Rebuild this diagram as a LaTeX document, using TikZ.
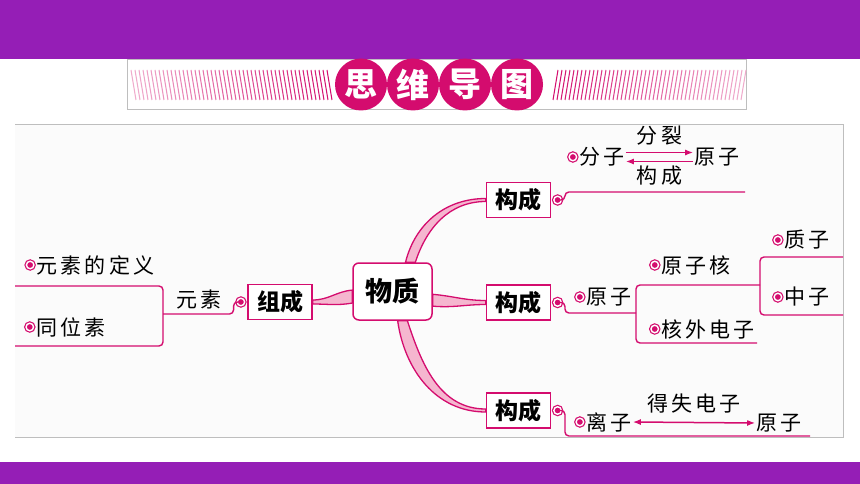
\documentclass[tikz,border=0pt]{standalone}
\usepackage{fontspec}
\setmainfont{Noto Sans CJK SC}
\newfontfamily\lbl[LetterSpace=15]{Noto Sans CJK SC}
\usepackage{tikz}
\usetikzlibrary{positioning}
\usetikzlibrary{arrows.meta}
\definecolor{barpurple}{RGB}{149,30,182}
\definecolor{mag}{RGB}{212,12,110}
\definecolor{bandpink}{RGB}{245,182,207}
\definecolor{framegray}{RGB}{190,190,190}
\definecolor{paper}{RGB}{251,251,251}

\begin{document}
\begin{tikzpicture}[
x=1pt, y=-1pt,
every node/.style={inner sep=1pt},
txt/.style={font=\lbl\fontsize{21}{24}\selectfont, text=black},
box/.style={rectangle, draw=mag, fill=white, line width=1.5pt, inner sep=0,
  minimum width=64pt, minimum height=35pt, font=\bfseries\fontsize{23}{26}\selectfont},
ring/.style={circle, draw=mag, fill=mag, line width=1.2pt, double=white,
  double distance=1.4pt, minimum size=7.5pt, inner sep=0},
wire/.style={draw=mag, line width=1.4pt, rounded corners=4pt},
band/.style={draw=mag, fill=bandpink, line width=1.3pt},
arr/.style={draw=mag, line width=1.5pt, -{Latex[length=8pt,width=6pt]}},
disc/.style={circle, fill=mag, minimum size=52pt, inner sep=0, text=white,
  font=\bfseries\fontsize{33}{33}\selectfont}
]
\useasboundingbox (0,0) rectangle (860,484);
\fill[white] (0,0) rectangle (860,484);
\fill[barpurple] (0,0) rectangle (860,59);
\fill[barpurple] (0,462) rectangle (860,484);

% title strip
\draw[framegray, fill=white] (127,59) rectangle (746,109);
\foreach \x in {131,135,...,327} {
  \pgfmathtruncatemacro\s{35+65*(\x-131)/196}
  \draw[mag!\s!white, line width=1pt] (\x,70) -- (\x+5,100);
}
\foreach \x in {553,557,...,741} {
  \pgfmathtruncatemacro\s{100-65*(\x-553)/188}
  \draw[mag!\s!white, line width=1pt] (\x+5,70) -- (\x,100);
}
\foreach \c/\x in {思/361, 维/413, 导/465, 图/517}
  \node[disc] (t-\x) at (\x,84.5) {\c};

% frame
\fill[paper] (15,125) rectangle (843,437);
\draw[framegray, line width=1pt] (15,125) -- (843,125) -- (843,437) -- (15,437);

% boxes
\node[box, rounded corners=6pt, minimum width=79pt, minimum height=57pt,
  font=\bfseries\fontsize{27}{30}\selectfont] (wz) at (392.5,291.5) {物质};
\node[box] (zc) at (280,302) {组成};
\node[box] (gc1) at (518.5,200) {构成};
\node[box] (gc2) at (518.5,302.5) {构成};
\node[box] (gc3) at (518.5,410.5) {构成};
\node[ring, left=2pt of zc] (r0) {};
\node[ring, right=2pt of gc1] (r1) {};
\node[ring, right=2pt of gc2] (r2) {};
\node[ring, right=2pt of gc3] (r3) {};

% thick branches
\draw[band] (wz.52) to[out=72,in=180] ([yshift=-1.5pt]gc1.west)
  -- ([yshift=1.5pt]gc1.west) to[out=180,in=76] (wz.66) -- cycle;
\draw[band] (wz.-4) to[out=-5,in=180] ([yshift=2pt]gc2.west)
  -- ([yshift=-2pt]gc2.west) to[out=180,in=-5] (wz.-20) -- cycle;
\draw[band] (wz.-80) to[out=-82,in=180] ([yshift=-1.5pt]gc3.west)
  -- ([yshift=1.5pt]gc3.west) to[out=180,in=-72] (wz.-63) -- cycle;
\draw[band] (wz.178) to[out=185,in=0] ([yshift=2pt]zc.east)
  -- ([yshift=-2pt]zc.east) to[out=0,in=190] (wz.196) -- cycle;

% left side
\coordinate (j0) at (163,314);
\coordinate (a0) at (15,286);
\coordinate (b0) at (15,346);
\draw[wire] (r0.west) -- ++(-3,0) |- (j0);
\draw[wire] (a0) -| (j0) |- (b0);
\node[txt] (ys) at (199,299) {元素};
\node[txt, label={[ring, name=ysd-r, label distance=1pt]left:{}}] (ysd) at (95.5,265) {元素的定义};
\node[txt, label={[ring, name=tws-r, label distance=1pt]left:{}}] (tws) at (71,327) {同位素};

% top branch
\coordinate (e1) at (745,192);
\draw[wire] (r1.east) -- ++(3,0) |- (e1);
\node[txt, label={[ring, name=fz-r, label distance=1pt]left:{}}] (fz) at (602,157) {分子};
\node[txt] (yz1) at (717,157) {原子};
\draw[arr] ([yshift=4.5pt]fz.east) -- node[txt, above=6pt] (fl) {分裂} ([yshift=4.5pt]yz1.west);
\draw[arr] ([yshift=-4.5pt]yz1.west) -- node[txt, below=3pt] (gcl) {构成} ([yshift=-4.5pt]fz.east);

% middle branch
\coordinate (j2) at (636,313);
\coordinate (b2) at (757,343);
\coordinate (j3) at (760,285);
\coordinate (a3) at (843,257);
\coordinate (b3) at (843,315);
\draw[wire] (r2.east) -- ++(3,0) |- (j2);
\draw[wire] (j3) -| (j2) |- (b2);
\draw[wire] (a3) -| (j3) |- (b3);
\node[txt, label={[ring, name=yz2-r, label distance=1pt]left:{}}] (yz2) at (609,297) {原子};
\node[txt, label={[ring, name=yzh-r, label distance=1pt]left:{}}] (yzh) at (696,265) {原子核};
\node[txt, label={[ring, name=hw-r, label distance=1pt]left:{}}] (hw) at (708,329) {核外电子};
\node[txt, label={[ring, name=zz-r, label distance=1pt]left:{}}] (zz) at (807,240) {质子};
\node[txt, label={[ring, name=cz-r, label distance=1pt]left:{}}] (cz) at (807,297) {中子};

% bottom branch
\coordinate (e3) at (810,436);
\draw[wire] (r3.east) -- ++(3,0) |- (e3);
\node[txt, label={[ring, name=lz-r, label distance=1pt]left:{}}] (lz) at (609,422) {离子};
\node[txt] (yz3) at (779,423) {原子};
\draw[arr, {Latex[length=8pt,width=6pt]}-{Latex[length=8pt,width=6pt]}] (lz.east) -- node[txt, above=8pt] (ds) {得失电子} (yz3.west);
\end{tikzpicture}
\end{document}
